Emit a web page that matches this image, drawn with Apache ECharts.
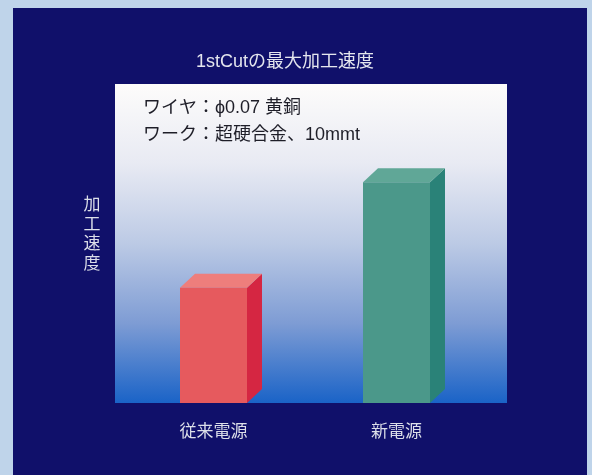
<!DOCTYPE html>
<html>
<head>
<meta charset="utf-8">
<script src="https://cdn.jsdelivr.net/npm/echarts@6/dist/echarts.min.js"></script>
<style>html,body{margin:0;padding:0;background:#bfd4ea;}#c{width:592px;height:475px;}</style>
</head>
<body>
<div id="c"></div>
<script>
const categories = ['従来電源', '新電源'];
const speedValues = [36, 69];
const titleText = '1stCutの最大加工速度';
const noteLines = ['ワイヤ：ϕ0.07 黄銅', 'ワーク：超硬合金、10mmt'];
const yName = '加工速度';

const FONT = '"Liberation Sans", "Noto Sans CJK JP", sans-serif';
const palettes = [
  { front: '#e65a5e', top: '#ee7e7c', side: '#d52642' },
  { front: '#4b988a', top: '#60a797', side: '#2a8278' }
];

const chart = echarts.init(document.getElementById('c'), null, { renderer: 'canvas' });

function renderItem(params, api) {
  const idx = api.value(0);
  const top = api.coord([idx, api.value(1)]);
  const base = api.coord([idx, 0]);
  const w = 67, dx = 15, dy = 14;
  const x0 = top[0] - w / 2, x1 = top[0] + w / 2;
  const yT = top[1], yB = base[1];
  const p = palettes[idx % palettes.length];
  return {
    type: 'group',
    children: [
      { type: 'polygon', shape: { points: [[x1, yB], [x1, yT], [x1 + dx, yT - dy], [x1 + dx, yB - dy]] }, style: { fill: p.side } },
      { type: 'polygon', shape: { points: [[x0, yT], [x0 + dx, yT - dy], [x1 + dx, yT - dy], [x1, yT]] }, style: { fill: p.top } },
      { type: 'rect', shape: { x: x0, y: yT, width: w, height: yB - yT }, style: { fill: p.front } }
    ]
  };
}

chart.setOption({
  backgroundColor: '#bfd4ea',
  animation: false,
  graphic: [
    { type: 'rect', z: -20, shape: { x: 13, y: 8, width: 574, height: 470 }, style: { fill: '#10106a' } },
    { type: 'rect', z: -19, shape: { x: 115, y: 84, width: 392, height: 319 },
      style: { fill: new echarts.graphic.LinearGradient(0, 0, 0, 1, [
        { offset: 0, color: '#fdfcfb' },
        { offset: 0.25, color: '#e8eaf3' },
        { offset: 0.5, color: '#bccae5' },
        { offset: 0.75, color: '#7e9cd4' },
        { offset: 1, color: '#1a63c7' }
      ]) } },
    { type: 'text', z: 10, x: 285, y: 62, style: { text: titleText, fill: '#e4e6ee', font: '18px ' + FONT, textAlign: 'center', textVerticalAlign: 'middle' } },
    { type: 'text', z: 10, x: 143, y: 108, style: { text: noteLines[0], fill: '#1e1e28', font: '18px ' + FONT, textAlign: 'left', textVerticalAlign: 'middle' } },
    { type: 'text', z: 10, x: 143, y: 135, style: { text: noteLines[1], fill: '#1e1e28', font: '18px ' + FONT, textAlign: 'left', textVerticalAlign: 'middle' } },
    { type: 'text', z: 10, x: 92, y: 235, style: { text: yName.split('').join('\n'), fill: '#dcdfe9', font: '17px ' + FONT, lineHeight: 19.5, textAlign: 'center', textVerticalAlign: 'middle' } }
  ],
  grid: { left: 122, right: 104, top: 83, bottom: 72 },
  xAxis: {
    type: 'category',
    data: categories,
    axisLine: { show: false },
    axisTick: { show: false },
    axisLabel: { color: '#dcdfe9', fontSize: 17, fontFamily: FONT, margin: 21 }
  },
  yAxis: {
    type: 'value', min: 0, max: 100,
    axisLine: { show: false }, axisTick: { show: false }, axisLabel: { show: false }, splitLine: { show: false }
  },
  series: [{
    type: 'custom',
    renderItem: renderItem,
    data: speedValues.map((v, i) => [i, v]),
    encode: { x: 0, y: 1 },
    z: 5
  }]
});
</script>
</body>
</html>
